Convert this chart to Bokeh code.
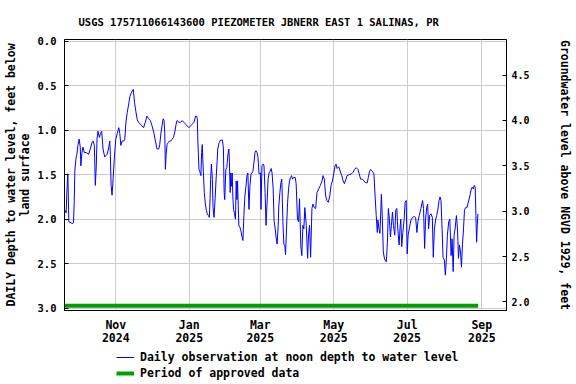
import pandas as pd
from bokeh.plotting import figure
from bokeh.layouts import column
from bokeh.models import (Range1d, LinearAxis, FixedTicker, Legend, LegendItem,
                          ColumnDataSource, NumeralTickFormatter)
from bokeh.embed import file_html
from bokeh.resources import INLINE

TITLE = "USGS 175711066143600 PIEZOMETER JBNERR EAST 1 SALINAS, PR"
ORIGIN = "2024-11-01"   # obs_day is counted in days after this date

obs_day = [
    -42.1, -41.2, -40.7, -39.8, -39.0, -37.3, -35.7, -35.1, -34.5, -34.0,
    -33.1, -32.3, -31.5, -30.4, -29.5, -29.0, -28.1, -27.3, -26.2, -24.5,
    -22.6, -21.2, -19.8, -18.9, -17.8, -17.0, -16.2, -15.6, -14.8, -13.6,
    -12.8, -11.7, -10.6, -9.2, -7.2, -5.8, -5.0, -4.5, -3.9, -3.1,
    -2.2, -1.1, 0.0, 1.1, 2.5, 3.3, 4.2, 5.3, 6.7, 7.5,
    8.4, 9.5, 10.9, 11.7, 12.8, 13.6, 14.5, 15.6, 16.7, 17.8,
    18.9, 23.1, 24.5, 25.9, 27.3, 28.7, 30.1, 31.5, 32.9, 34.2,
    35.7, 36.5, 37.6, 38.4, 39.3, 40.1, 40.7, 41.2, 41.8, 42.6,
    43.5, 44.6, 45.7, 46.8, 47.9, 49.0, 50.1, 50.9, 52.4, 53.7,
    55.2, 56.5, 57.9, 59.3, 60.7, 62.1, 63.5, 64.9, 66.3, 67.1,
    67.7, 68.2, 69.1, 69.9, 70.7, 71.3, 71.8, 72.7, 73.5, 74.4,
    75.2, 76.0, 76.9, 77.7, 78.3, 78.8, 79.4, 80.2, 80.8, 81.6,
    82.5, 83.3,
    84.1, 84.7, 85.8, 86.9, 88.6, 89.4, 90.0, 90.5, 91.4, 92.2,
    93.0, 93.9, 94.4, 95.0, 95.5, 96.1, 96.7, 97.2, 97.8, 98.6,
    99.4, 100.0, 100.6, 101.1, 101.7, 102.2, 103.1, 103.9, 104.7, 105.6,
    106.4, 107.2, 108.1, 108.9, 109.7, 110.6, 111.4, 112.3, 113.1, 113.9,
    114.8, 115.6, 116.4, 117.3, 118.1, 119.0, 120.1, 120.6, 121.4, 122.3,
    123.1, 124.0, 124.8, 125.6, 126.5, 127.3, 128.2, 129.0, 129.8, 130.7,
    131.5, 132.4, 133.2, 134.0, 134.9, 135.4, 136.3, 137.1, 137.9, 138.8,
    139.6, 140.4, 141.0, 141.8, 142.7, 143.5, 144.3, 145.2, 146.0, 146.8,
    147.7,
    149.0, 149.8, 150.9, 151.8, 152.6, 153.7, 154.5, 155.4, 156.2, 157.0,
    158.2, 159.3, 160.1, 160.9, 161.8, 162.9, 163.7, 164.8, 166.0, 167.1,
    168.5, 169.9, 171.3, 172.1, 173.2, 174.3, 175.4, 176.5, 177.7, 178.8,
    179.9, 181.0, 182.1, 182.9, 183.8, 185.2, 186.6, 187.7, 188.8, 189.9,
    190.7, 192.1, 193.8, 195.8, 197.2, 198.3, 199.7, 201.1, 202.2, 203.3,
    204.7, 206.1, 207.5, 208.9, 209.7, 210.8, 211.6, 213.0, 214.4, 215.5,
    216.3, 217.2, 217.7, 218.6, 219.4, 220.6, 221.4, 222.2, 223.1, 223.9,
    224.7, 225.6, 226.4, 227.2, 228.1, 228.9, 229.8, 230.6, 231.7, 232.5,
    233.4, 234.2, 235.3, 236.2, 236.7, 237.5, 238.4, 239.5, 240.3, 241.2,
    242.0, 242.8, 244.0, 245.1, 246.5, 247.9, 249.0, 250.1, 250.9, 252.0,
    253.4, 254.8, 255.6, 256.5, 257.3, 258.2, 259.0, 259.8, 260.7, 261.8,
    262.9, 263.7, 264.6, 265.7, 266.5, 267.4, 268.5, 269.3, 270.1, 271.0,
    271.8, 272.9, 273.7, 274.6, 275.4, 276.5, 277.4, 278.5, 279.3, 280.2,
    281.0, 281.8, 282.9, 283.8, 284.6, 285.4, 286.3, 287.1, 287.9, 288.8,
    289.6, 290.5, 291.6, 292.4, 293.5, 294.4, 295.2, 296.0, 296.9, 297.7,
    298.5, 299.1, 299.7, 300.2, 300.8,
]

obs_depth = [
    1.90, 1.93, 1.71, 1.49, 2.03, 2.04, 2.05, 2.04, 1.80, 1.45,
    1.32, 1.27, 1.17, 1.10, 1.19, 1.40, 1.25, 1.19, 1.25, 1.25,
    1.27, 1.21, 1.14, 1.12, 1.17, 1.62, 1.40, 1.10, 1.01, 1.08,
    1.04, 1.01, 1.21, 1.30, 1.27, 1.19, 1.12, 1.27, 1.62, 1.73,
    1.54, 1.29, 1.10, 1.04, 0.97, 1.03, 1.17, 1.12, 1.12, 1.10,
    0.91, 0.80, 0.69, 0.62, 0.58, 0.56, 0.54, 0.69, 0.79, 0.88,
    0.91, 0.97, 0.91, 0.84, 0.87, 0.89, 0.95, 1.02, 1.12, 1.21,
    1.21, 1.16, 1.02, 0.95, 0.87, 0.89, 1.04, 1.44, 1.27, 1.16,
    1.14, 1.12, 1.12, 1.10, 1.08, 1.02, 0.93, 0.89, 0.91, 0.91,
    0.89, 0.91, 0.93, 0.95, 0.97, 0.95, 0.93, 0.91, 0.84, 0.84,
    0.87, 1.14, 1.44, 1.47, 1.51, 1.25, 1.16, 1.46, 1.70, 1.83,
    1.90, 1.94, 1.96, 1.98, 1.77, 1.55, 1.38, 1.55, 1.87, 1.98,
    1.77, 1.55,
    1.36, 1.21, 1.14, 1.11, 1.11, 1.21, 1.70, 1.78, 1.44, 1.42,
    1.29, 1.21, 1.36, 1.70, 1.48, 1.63, 1.48, 1.74, 1.89, 1.94,
    2.00, 1.57, 1.78, 1.57, 1.85, 2.07, 2.09, 2.13, 2.19, 2.24,
    1.96, 1.74, 1.63, 1.51, 1.48, 1.89, 1.63, 1.49, 1.48, 1.46,
    1.36, 1.25, 1.23, 1.25, 1.31, 1.49, 1.48, 1.89, 1.40, 1.38,
    1.40, 1.70, 2.07, 1.83, 1.55, 1.48, 1.46, 1.43, 1.48, 1.66,
    2.02, 2.11, 2.21, 2.28, 2.07, 1.85, 1.70, 1.59, 1.55, 2.04,
    2.28, 2.30, 2.40, 2.11, 1.81, 1.66, 1.57, 1.53, 1.51, 1.55,
    1.53,
    1.53, 1.60, 2.00, 2.03, 1.77, 2.31, 2.41, 2.07, 2.11, 1.87,
    2.07, 2.44, 2.18, 2.07, 2.43, 1.88, 1.83, 1.87, 1.88, 1.70,
    1.66, 1.62, 1.57, 1.51, 1.55, 1.74, 1.79, 1.81, 1.74, 1.62,
    1.57, 1.49, 1.40, 1.38, 1.43, 1.41, 1.47, 1.51, 1.57, 1.60,
    1.57, 1.51, 1.50, 1.49, 1.47, 1.44, 1.42, 1.44, 1.49, 1.55,
    1.55, 1.57, 1.59, 1.59, 1.53, 1.46, 1.44, 1.46, 1.49, 1.77,
    1.96, 2.15, 2.01, 2.11, 2.16, 1.72, 2.00, 2.37, 2.44, 2.47,
    2.48, 2.26, 1.88, 2.00, 2.20, 2.07, 1.92, 2.07, 2.18, 1.90,
    1.88, 2.11, 2.29, 2.07, 2.00, 2.31, 2.15, 2.00, 1.81, 1.79,
    2.39, 2.18, 2.09, 2.01, 1.98, 1.97, 1.98, 2.15, 2.03, 1.96,
    1.88, 1.79, 1.88, 2.33, 2.00, 1.87, 1.83, 2.11, 1.96, 1.94,
    1.98, 2.43, 2.11, 2.00, 1.96, 1.90, 1.79, 1.75, 1.79, 2.11,
    2.43, 2.46, 2.63, 2.44, 2.18, 2.03, 2.00, 2.41, 2.22, 2.59,
    2.18, 2.11, 1.96, 2.11, 2.44, 2.29, 2.37, 2.54, 2.29, 2.11,
    1.90, 1.87, 1.87, 1.83, 1.77, 1.72, 1.66, 1.64, 1.66, 1.62,
    1.64, 1.96, 2.26, 2.07, 1.94,
]

approved_period = ["2024-09-19", "2025-08-29"]

x_tick_dates = ["2024-11-01", "2025-01-01", "2025-03-01",
                "2025-05-01", "2025-07-01", "2025-09-01"]
x_tick_labels = ["Nov\n2024", "Jan\n2025", "Mar\n2025",
                 "May\n2025", "Jul\n2025", "Sep\n2025"]
depth_ticks = [0.0, 0.5, 1.0, 1.5, 2.0, 2.5, 3.0]
elev_ticks = [2.0, 2.5, 3.0, 3.5, 4.0, 4.5]
legend_labels = ["Daily observation at noon depth to water level",
                 "Period of approved data"]

assert len(obs_day) == len(obs_depth)


def ms(ts):
    return int(pd.Timestamp(ts).value // 10**6)


origin = pd.Timestamp(ORIGIN)
obs_time = [origin + pd.Timedelta(days=d) for d in obs_day]
src = ColumnDataSource(data=dict(t=obs_time, depth=obs_depth))

FONT = "DejaVu Sans Mono"
BLUE = "#0000ff"
GREEN = "#00a000"

x_start = ms(origin - pd.Timedelta(days=42.6))
x_end = ms(origin + pd.Timedelta(days=324.5))

p = figure(width=576, height=348, output_backend="svg", toolbar_location=None,
           x_axis_type="datetime",
           x_range=Range1d(x_start, x_end),
           y_range=Range1d(3.028, -0.022),
           min_border_left=64, min_border_right=70,
           min_border_top=39, min_border_bottom=36)

p.background_fill_color = "white"
p.border_fill_color = "white"
p.outline_line_color = "black"
p.outline_line_width = 1
p.outline_line_alpha = 1.0

# title
p.title.text = TITLE
p.title.align = "left"
p.title.offset = 14
p.title.text_font = FONT
p.title.text_font_size = "10.5px"
p.title.text_font_style = "bold"
p.title.text_color = "black"
p.title.standoff = 23

# x axis
tick_ms = [ms(d) for d in x_tick_dates]
p.xaxis.ticker = FixedTicker(ticks=tick_ms, minor_ticks=[])
p.xaxis.major_label_overrides = {t: lab for t, lab in zip(tick_ms, x_tick_labels)}
p.xaxis.major_label_text_font = FONT
p.xaxis.major_label_text_font_size = "11.5px"
p.xaxis.major_label_text_font_style = "bold"
p.xaxis.major_label_text_color = "black"
p.xaxis.major_label_text_line_height = 0.97
p.xaxis.major_tick_in = 0
p.xaxis.major_tick_out = 0
p.xaxis.minor_tick_in = 0
p.xaxis.minor_tick_out = 0
p.xaxis.major_label_standoff = 7
p.xaxis.axis_line_color = "black"

# left axis
p.yaxis.ticker = FixedTicker(ticks=depth_ticks, minor_ticks=[])
p.yaxis.formatter = NumeralTickFormatter(format="0.0")
p.yaxis.axis_label = "DAILY Depth to water level, feet below\nland surface"
p.yaxis.axis_label_text_font = FONT
p.yaxis.axis_label_text_font_size = "11.5px"
p.yaxis.axis_label_text_font_style = "bold"
p.yaxis.axis_label_text_color = "black"
p.yaxis.axis_label_text_line_height = 0.97
p.yaxis.axis_label_standoff = 3
p.yaxis.major_label_text_font = FONT
p.yaxis.major_label_text_font_size = "10.5px"
p.yaxis.major_label_text_font_style = "bold"
p.yaxis.major_label_text_color = "black"
p.yaxis.major_label_standoff = 8
p.yaxis.major_tick_in = 4
p.yaxis.major_tick_out = 0
p.yaxis.minor_tick_in = 0
p.yaxis.minor_tick_out = 0
p.yaxis.axis_line_color = "black"

# right axis
p.extra_y_ranges = {"elev": Range1d(1.905, 4.892)}
rax = LinearAxis(y_range_name="elev",
                 ticker=FixedTicker(ticks=elev_ticks, minor_ticks=[]),
                 formatter=NumeralTickFormatter(format="0.0"),
                 axis_label="Groundwater level above NGVD 1929, feet")
rax.axis_label_text_font = FONT
rax.axis_label_text_font_size = "11.5px"
rax.axis_label_text_font_style = "bold"
rax.axis_label_text_color = "black"
rax.axis_label_standoff = 25
rax.major_label_text_font = FONT
rax.major_label_text_font_size = "10px"
rax.major_label_text_font_style = "bold"
rax.major_label_text_color = "black"
rax.major_label_standoff = 5
rax.major_tick_in = 4
rax.major_tick_out = 0
rax.minor_tick_in = 0
rax.minor_tick_out = 0
rax.axis_line_color = "black"
p.add_layout(rax, "right")

# grid
p.xgrid.grid_line_color = "#cccccc"
p.ygrid.grid_line_color = "#cccccc"
p.xgrid.grid_line_width = 1
p.ygrid.grid_line_width = 1

# data
p.line("t", "depth", source=src, line_color=BLUE, line_width=1)
p.line([pd.Timestamp(approved_period[0]), pd.Timestamp(approved_period[1])],
       [2.975, 2.975], line_color=GREEN, line_width=4, line_cap="butt")

# legend strip below the chart (its frame is aligned with the chart's frame)
lf = figure(width=576, height=36, output_backend="svg", toolbar_location=None,
            x_range=Range1d(0, 1), y_range=Range1d(0, 1),
            x_axis_location=None, y_axis_location=None,
            min_border_left=0, min_border_right=0,
            min_border_top=0, min_border_bottom=0)
lf.outline_line_color = None
lf.background_fill_color = "white"
lf.border_fill_color = "white"
lf.xgrid.grid_line_color = None
lf.ygrid.grid_line_color = None
nan = float("nan")
r_blue = lf.line(x=[nan], y=[nan], line_color=BLUE, line_width=1)
r_green = lf.line(x=[nan], y=[nan], line_color=GREEN, line_width=4, line_cap="butt")

legend = Legend(items=[
    LegendItem(label=legend_labels[0], renderers=[r_blue]),
    LegendItem(label=legend_labels[1], renderers=[r_green]),
], location=(52, 4), orientation="vertical")
legend.label_text_font = FONT
legend.label_text_font_size = "11.5px"
legend.label_text_font_style = "bold"
legend.label_text_color = "black"
legend.glyph_width = 18
legend.glyph_height = 14
legend.label_height = 14
legend.label_standoff = 6
legend.spacing = 2
legend.padding = 0
legend.margin = 0
legend.border_line_alpha = 0
legend.background_fill_alpha = 0
lf.add_layout(legend)

layout = column(p, lf, spacing=0)
open("out.html", "w").write(file_html(layout, INLINE))
